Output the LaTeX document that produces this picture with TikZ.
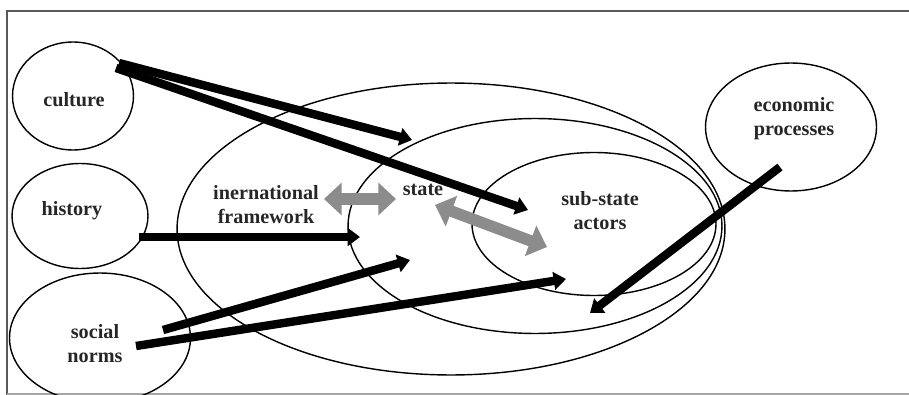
\documentclass[tikz,border=0pt]{standalone}
\usepackage{fontspec}
\setmainfont{Liberation Serif}
\usetikzlibrary{arrows.meta, positioning, shapes.geometric}

\tikzset{
  ring/.style={draw, ellipse, line width=0.8pt, inner sep=0pt},
  lbl/.style={font=\fontsize{11.5}{13.6}\selectfont\bfseries, align=center, text=black!85},
  push/.style={line width=4.8pt, -{Triangle[length=7pt, width=10pt]}},
  swap/.style={line width=6.5pt, black!45, {Triangle[length=10pt, width=18pt]}-{Triangle[length=10pt, width=18pt]}}
}

\begin{document}
\begin{tikzpicture}[x=0.02cm, y=-0.02cm]
  \useasboundingbox (0,0) rectangle (909,395);
  % Frame
  \draw[black!65, line width=1.3pt] (909,11) -- (7,11) -- (7,395);
  \draw[black!35, line width=1pt] (7,394) -- (909,394);

  % Nested ellipses
  \node[ring, minimum width=10.96cm, minimum height=5.84cm] (intl) at (451,229) {};
  \node[ring, minimum width=7.48cm, minimum height=4.3cm] (state) at (535,226) {};
  \node[ring, minimum width=4.88cm, minimum height=2.86cm] (substate) at (594,224) {};

  % Outside factors
  \node[ring, minimum width=2.42cm, minimum height=2.16cm] (culture) at (73,96) {};
  \node[ring, minimum width=2.72cm, minimum height=2.1cm] (history) at (80,216) {};
  \node[ring, minimum width=3.62cm, minimum height=2.6cm] (norms) at (100,338) {};
  \node[ring, minimum width=3.42cm, minimum height=2.56cm] (economy) at (791,127) {};

  % Labels
  \node[lbl] (tculture) at (74,100) {culture};
  \node[lbl] (thistory) at (72,211) {history};
  \node[lbl] (tnorms) at (95,344) {social\\norms};
  \node[lbl] (teconomy) at (794,119) {economic\\processes};
  \node[lbl] (tintl) at (266,205) {inernational\\framework};
  \node[lbl] (tstate) at (423,190) {state};
  \node[lbl] (tsubstate) at (600,211) {sub-state\\actors};

  % Arrow ends
  \coordinate (c1) at (119,63);  \coordinate (c1e) at (412,140);
  \coordinate (c2) at (116,68);  \coordinate (c2e) at (528,210);
  \coordinate (h1) at (139,237); \coordinate (h1e) at (360,237);
  \coordinate (n1) at (163,330); \coordinate (n1e) at (410,260);
  \coordinate (n2) at (136,346); \coordinate (n2e) at (566,279);
  \coordinate (e1) at (780,167); \coordinate (e1e) at (590,313);
  \coordinate (g1) at (324,199); \coordinate (g1e) at (396,199);
  \coordinate (g2) at (435,205); \coordinate (g2e) at (547,247);

  \draw[push] (c1) -- (c1e);
  \draw[push] (c2) -- (c2e);
  \draw[push] (h1) -- (h1e);
  \draw[push] (n1) -- (n1e);
  \draw[push] (n2) -- (n2e);
  \draw[push] (e1) -- (e1e);

  % Two-way links
  \draw[swap] (g1) -- (g1e);
  \draw[swap] (g2) -- (g2e);
\end{tikzpicture}
\end{document}
